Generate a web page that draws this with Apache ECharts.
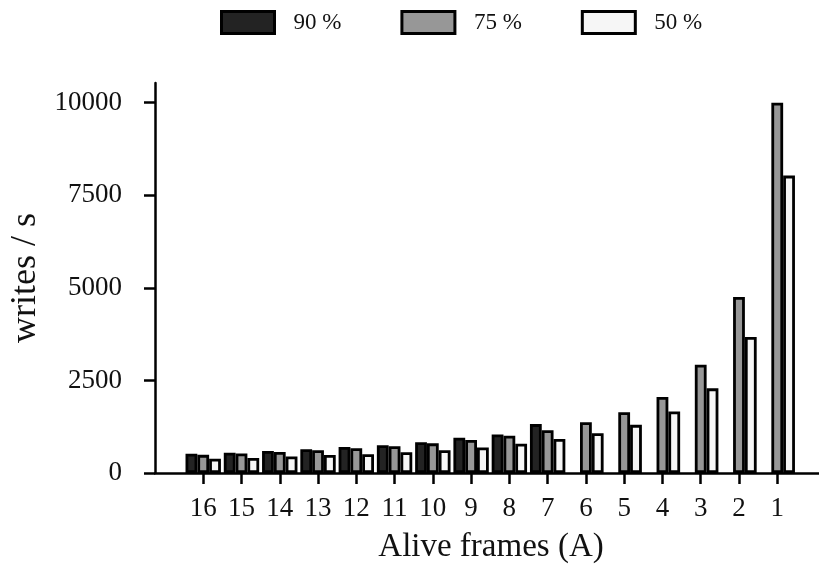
<!DOCTYPE html>
<html>
<head>
<meta charset="utf-8">
<script src="https://cdn.jsdelivr.net/npm/echarts@6/dist/echarts.min.js"></script>
<style>
  html, body { margin: 0; padding: 0; background: #fff; }
  #chart { width: 819px; height: 571px; }
</style>
</head>
<body>
<div id="chart"></div>
<script>
// Alive frames (category labels, left to right)
const categories = ['16', '15', '14', '13', '12', '11', '10', '9', '8', '7', '6', '5', '4', '3', '2', '1'];
// writes / s for each threshold
const pct90 = [520, 550, 595, 640, 705, 750, 830, 950, 1040, 1320, null, null, null, null, null, null];
const pct75 = [490, 525, 570, 615, 670, 725, 800, 890, 1005, 1155, 1370, 1640, 2050, 2925, 4750, 10000];
const pct50 = [385, 405, 445, 485, 505, 560, 615, 690, 790, 920, 1075, 1300, 1660, 2285, 3670, 8030];
const seriesNames = ['90 %', '75 %', '50 %'];
const yTicks = [0, 2500, 5000, 7500, 10000];

const FONT = 'Liberation Serif';
const positions = categories.map((c, i) => i);

function toPairs(values) {
  return values.map((v, i) => [i, v]);
}

function barSeries(name, values, fill) {
  return {
    name: name,
    type: 'bar',
    data: toPairs(values),
    barWidth: 11.8,
    barGap: '0%',
    itemStyle: { color: fill, borderColor: '#000', borderWidth: 2.8 },
    emphasis: { disabled: true }
  };
}

const chart = echarts.init(document.getElementById('chart'), null, { renderer: 'canvas' });
chart.setOption({
  animation: false,
  backgroundColor: '#fff',
  legend: {
    data: seriesNames,
    left: 220,
    top: 10,
    padding: 0,
    itemWidth: 53,
    itemHeight: 22,
    itemGap: 59,
    icon: 'rect',
    itemStyle: { borderColor: '#000', borderWidth: 3 },
    textStyle: { fontFamily: FONT, fontSize: 23, color: '#111', padding: [0, 0, 0, 14], width: 45 }
  },
  grid: { left: 155, right: -8, top: 83, bottom: 98, containLabel: false, outerBoundsMode: 'none' },
  xAxis: {
    type: 'value',
    min: -1.26,
    max: 16.3,
    name: 'Alive frames (A)',
    nameLocation: 'middle',
    nameGap: 58,
    nameTextStyle: { fontFamily: FONT, fontSize: 33, color: '#111' },
    axisLine: { show: true, onZero: false, lineStyle: { color: '#000', width: 2.5 } },
    axisTick: { show: true, customValues: positions, length: 11, lineStyle: { color: '#000', width: 2.5 } },
    axisLabel: {
      customValues: positions,
      formatter: v => categories[Math.round(v)],
      fontFamily: FONT, fontSize: 27, color: '#111', margin: 22
    },
    splitLine: { show: false }
  },
  yAxis: {
    type: 'value',
    min: 0,
    max: 10530,
    name: 'writes / s',
    nameLocation: 'middle',
    nameGap: 108,
    nameTextStyle: { fontFamily: FONT, fontSize: 36, color: '#111' },
    axisLine: { show: true, onZero: false, lineStyle: { color: '#000', width: 2.5 } },
    axisTick: { show: true, customValues: yTicks, length: 11, lineStyle: { color: '#000', width: 2.5 } },
    axisLabel: {
      customValues: yTicks,
      formatter: v => String(v),
      fontFamily: FONT, fontSize: 27, color: '#111', margin: 33
    },
    splitLine: { show: false }
  },
  series: [
    barSeries(seriesNames[0], pct90, '#232323'),
    barSeries(seriesNames[1], pct75, '#979797'),
    barSeries(seriesNames[2], pct50, '#f6f6f6')
  ]
});
</script>
</body>
</html>
